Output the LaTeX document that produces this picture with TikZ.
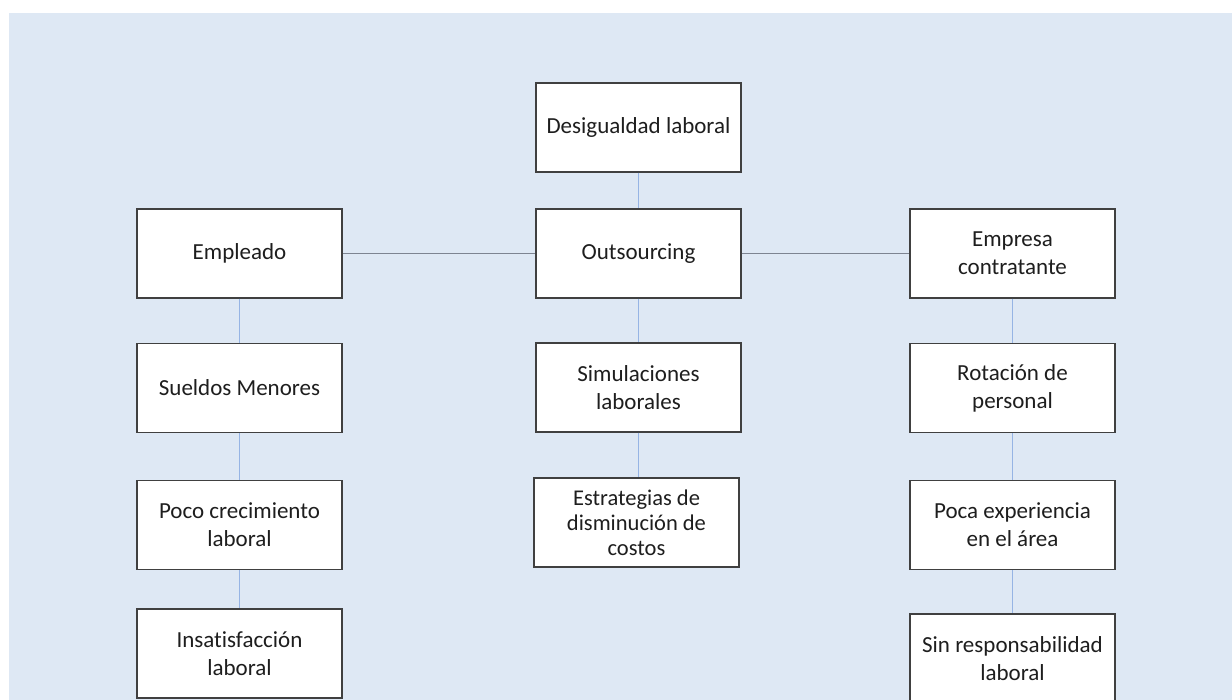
\documentclass[tikz,border=0pt]{standalone}
\usepackage{fontspec}
\setmainfont[Ligatures=NoCommon]{Carlito}
\definecolor{bgblue}{RGB}{222,232,244}
\definecolor{boxline}{RGB}{64,64,64}
\definecolor{txt}{RGB}{30,30,30}
\definecolor{vlink}{RGB}{150,180,228}
\definecolor{hlink}{RGB}{125,132,145}
\begin{document}
\begin{tikzpicture}[x=1pt,y=-1pt,
  box/.style={draw=boxline,line width=1.4pt,fill=white,minimum width=205pt,minimum height=89pt,
    inner sep=0pt,align=center,text=txt,font=\fontsize{23}{28}\selectfont},
  smallbox/.style={box,font=\fontsize{22.5}{25}\selectfont},
  vline/.style={draw=vlink,line width=1.4pt},
  hline/.style={draw=hlink,line width=1.3pt}]
\useasboundingbox (0,0) rectangle (1232,700);
\clip (0,0) rectangle (1232,700);
\fill[bgblue] (9,13) rectangle (1232,700);

% centre column
\node[box] (desig) at (638.5,127.5) {Desigualdad laboral};
\node[box] (outs) at (638.5,253.5) {Outsourcing};
\node[box] (simul) at (638.5,387.5) {Simulaciones\\laborales};
\node[smallbox] (estr) at (636.5,522.5) {Estrategias de\\disminución de\\costos};

% left column
\node[box] (empl) at (239.5,253.5) {Empleado};
\node[box] (suel) at (239.5,388) {Sueldos Menores};
\node[box] (poco) at (239.5,525) {Poco crecimiento\\laboral};
\node[box] (insat) at (239.5,653.5) {Insatisfacción\\laboral};

% right column
\node[box] (empr) at (1012.5,253.5) {Empresa\\contratante};
\node[box] (rota) at (1012.5,388) {Rotación de\\personal};
\node[box] (expe) at (1012.5,525) {Poca experiencia\\en el área};
\node[box] (resp) at (1012.5,658.5) {Sin responsabilidad\\laboral};

% connectors
\draw[hline] (empl.east) -- (outs.west);
\draw[hline] (outs.east) -- (empr.west);
\draw[vline] (desig.south) -- (outs.north);
\draw[vline] (outs.south) -- (simul.north);
\draw[vline] (simul.south) -- (simul.south |- estr.north);
\draw[vline] (empl.south) -- (suel.north);
\draw[vline] (suel.south) -- (poco.north);
\draw[vline] (poco.south) -- (insat.north);
\draw[vline] (empr.south) -- (rota.north);
\draw[vline] (rota.south) -- (expe.north);
\draw[vline] (expe.south) -- (resp.north);
\end{tikzpicture}
\end{document}
